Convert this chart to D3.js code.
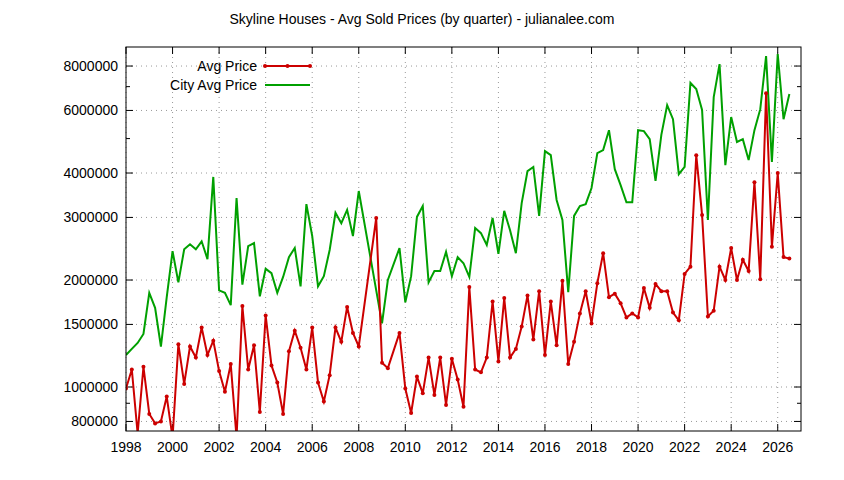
<!DOCTYPE html>
<html><head><meta charset="utf-8">
<script src="https://cdn.jsdelivr.net/npm/d3@7"></script>
<style>body{margin:0;background:#fff}svg{font-family:"Liberation Sans",Arial,sans-serif}</style>
</head><body><svg id="c" width="844" height="480"></svg>
<script>
const title = "Skyline Houses - Avg Sold Prices (by quarter) - julianalee.com";
const seriesNames = ["Avg Price", "City Avg Price"];
const avgYears = [1998,1998.25,1998.5,1998.75,1999,1999.25,1999.5,1999.75,2000,2000.25,2000.5,2000.75,2001,2001.25,2001.5,2001.75,2002,2002.25,2002.5,2002.75,2003,2003.25,2003.5,2003.75,2004,2004.25,2004.5,2004.75,2005,2005.25,2005.5,2005.75,2006,2006.25,2006.5,2006.75,2007,2007.25,2007.5,2007.75,2008,2008.75,2009,2009.25,2009.75,2010,2010.25,2010.5,2010.75,2011,2011.25,2011.5,2011.75,2012,2012.25,2012.5,2012.75,2013,2013.25,2013.5,2013.75,2014,2014.25,2014.5,2014.75,2015,2015.25,2015.5,2015.75,2016,2016.25,2016.5,2016.75,2017,2017.25,2017.5,2017.75,2018,2018.25,2018.5,2018.75,2019,2019.25,2019.5,2019.75,2020,2020.25,2020.5,2020.75,2021,2021.25,2021.5,2021.75,2022,2022.25,2022.5,2022.75,2023,2023.25,2023.5,2023.75,2024,2024.25,2024.5,2024.75,2025,2025.25,2025.5,2025.75,2026,2026.25,2026.5];
const avgPrice = [990000,1120000,740000,1140000,840000,790000,800000,940000,720000,1320000,1020000,1300000,1210000,1470000,1230000,1350000,1110000,970000,1160000,720000,1690000,1120000,1310000,850000,1590000,1150000,1030000,840000,1260000,1440000,1290000,1120000,1470000,1030000,910000,1080000,1470000,1340000,1680000,1420000,1300000,2990000,1170000,1130000,1420000,990000,845000,1070000,960000,1210000,950000,1210000,890000,1200000,1050000,880000,1910000,1120000,1100000,1210000,1740000,1180000,1780000,1210000,1280000,1480000,1810000,1360000,1860000,1230000,1740000,1310000,1990000,1160000,1340000,1610000,1860000,1510000,1960000,2380000,1790000,1830000,1720000,1570000,1610000,1570000,1900000,1670000,1950000,1860000,1860000,1620000,1540000,2080000,2180000,4490000,3050000,1580000,1640000,2180000,2000000,2460000,2000000,2280000,2120000,3770000,2010000,6710000,2480000,4000000,2320000,2300000];
const cityYears = [1998,1998.25,1998.5,1998.75,1999,1999.25,1999.5,1999.75,2000,2000.25,2000.5,2000.75,2001,2001.25,2001.5,2001.75,2002,2002.25,2002.5,2002.75,2003,2003.25,2003.5,2003.75,2004,2004.25,2004.5,2004.75,2005,2005.25,2005.5,2005.75,2006,2006.25,2006.5,2006.75,2007,2007.25,2007.5,2007.75,2008,2009,2009.25,2009.75,2010,2010.25,2010.5,2010.75,2011,2011.25,2011.5,2011.75,2012,2012.25,2012.5,2012.75,2013,2013.25,2013.5,2013.75,2014,2014.25,2014.5,2014.75,2015,2015.25,2015.5,2015.75,2016,2016.25,2016.5,2016.75,2017,2017.25,2017.5,2017.75,2018,2018.25,2018.5,2018.75,2019,2019.25,2019.5,2019.75,2020,2020.25,2020.5,2020.75,2021,2021.25,2021.5,2021.75,2022,2022.25,2022.5,2022.75,2023,2023.25,2023.5,2023.75,2024,2024.25,2024.5,2024.75,2025,2025.25,2025.5,2025.75,2026,2026.25,2026.5];
const cityPrice = [1230000,1280000,1330000,1410000,1840000,1670000,1300000,1790000,2410000,1970000,2440000,2520000,2440000,2570000,2290000,3900000,1870000,1840000,1700000,3400000,1940000,2490000,2540000,1800000,2150000,2090000,1840000,2040000,2320000,2460000,1920000,3270000,2660000,1920000,2050000,2430000,3090000,2890000,3150000,2660000,3560000,1510000,2000000,2460000,1730000,2050000,3010000,3230000,1970000,2120000,2120000,2400000,2050000,2320000,2230000,2040000,2800000,2710000,2510000,2990000,2370000,3130000,2760000,2380000,3290000,4050000,4160000,3030000,4610000,4490000,3360000,2950000,1850000,3030000,3230000,3270000,3630000,4550000,4640000,5280000,4100000,3700000,3310000,3310000,5280000,5250000,4980000,3800000,5120000,6210000,5670000,3970000,4160000,7170000,6890000,6020000,2950000,6540000,8100000,4210000,5750000,4890000,4980000,4350000,5280000,6050000,8530000,4300000,8650000,5670000,6670000];
const yTicks = [800000,1000000,1500000,2000000,3000000,4000000,6000000,8000000];
const yMinor = [900000,5000000,7000000];
const xTicks = [1998,2000,2002,2004,2006,2008,2010,2012,2014,2016,2018,2020,2022,2024,2026];

const L=126,R=801,T=47,B=431;
const svg=d3.select("#c");
const x=d3.scaleLinear().domain([1998,2027]).range([L,R]);
const y=d3.scaleLog().domain([752000,9050000]).range([B,T]);
const grid="#999";
svg.append("text").attr("x",422).attr("y",24).attr("text-anchor","middle").attr("font-size",14).text(title);
const g=svg.append("g");
xTicks.forEach(t=>{
  g.append("line").attr("x1",x(t)).attr("x2",x(t)).attr("y1",T).attr("y2",B).attr("stroke",grid).attr("stroke-dasharray","1,4");
  g.append("line").attr("x1",x(t)).attr("x2",x(t)).attr("y1",B).attr("y2",B-7).attr("stroke","#000");
  g.append("line").attr("x1",x(t)).attr("x2",x(t)).attr("y1",T).attr("y2",T+7).attr("stroke","#000");
  g.append("text").attr("x",x(t)).attr("y",B+21).attr("text-anchor","middle").attr("font-size",14).text(t);
});
yTicks.forEach(t=>{
  g.append("line").attr("x1",L).attr("x2",R).attr("y1",y(t)).attr("y2",y(t)).attr("stroke",grid).attr("stroke-dasharray","1,4");
  g.append("line").attr("x1",L).attr("x2",L+7).attr("y1",y(t)).attr("y2",y(t)).attr("stroke","#000");
  g.append("line").attr("x1",R).attr("x2",R-7).attr("y1",y(t)).attr("y2",y(t)).attr("stroke","#000");
  g.append("text").attr("x",L-8).attr("y",y(t)+5).attr("text-anchor","end").attr("font-size",14).text(t);
});
yMinor.forEach(t=>{
  g.append("line").attr("x1",L).attr("x2",L+4).attr("y1",y(t)).attr("y2",y(t)).attr("stroke","#000");
  g.append("line").attr("x1",R).attr("x2",R-4).attr("y1",y(t)).attr("y2",y(t)).attr("stroke","#000");
});
svg.append("clipPath").attr("id","cp").append("rect").attr("x",L).attr("y",T).attr("width",R-L).attr("height",B-T);
const line=d3.line().x(d=>x(d[0])).y(d=>y(d[1]));
const red="#cc0000",green="#00a000";
const avg=avgYears.map((d,i)=>[d,avgPrice[i]]);
const city=cityYears.map((d,i)=>[d,cityPrice[i]]);
const pg=svg.append("g").attr("clip-path","url(#cp)");
pg.append("path").datum(city).attr("d",line).attr("fill","none").attr("stroke",green).attr("stroke-width",2);
pg.append("path").datum(avg).attr("d",line).attr("fill","none").attr("stroke",red).attr("stroke-width",2);
pg.selectAll("circle").data(avg).join("circle").attr("cx",d=>x(d[0])).attr("cy",d=>y(d[1])).attr("r",2).attr("fill",red);
svg.append("rect").attr("x",L).attr("y",T).attr("width",R-L).attr("height",B-T).attr("fill","none").attr("stroke","#000");
// legend
const lg=[[seriesNames[0],red,66],[seriesNames[1],green,85]];
lg.forEach(([n,c,yy],i)=>{
  svg.append("text").attr("x",257).attr("y",yy+5).attr("text-anchor","end").attr("font-size",14).text(n);
  svg.append("line").attr("x1",265).attr("x2",310).attr("y1",yy).attr("y2",yy).attr("stroke",c).attr("stroke-width",2);
  if(i===0){[265,287.5,310].forEach(px=>svg.append("circle").attr("cx",px).attr("cy",yy).attr("r",2).attr("fill",red));}
});
</script></body></html>
